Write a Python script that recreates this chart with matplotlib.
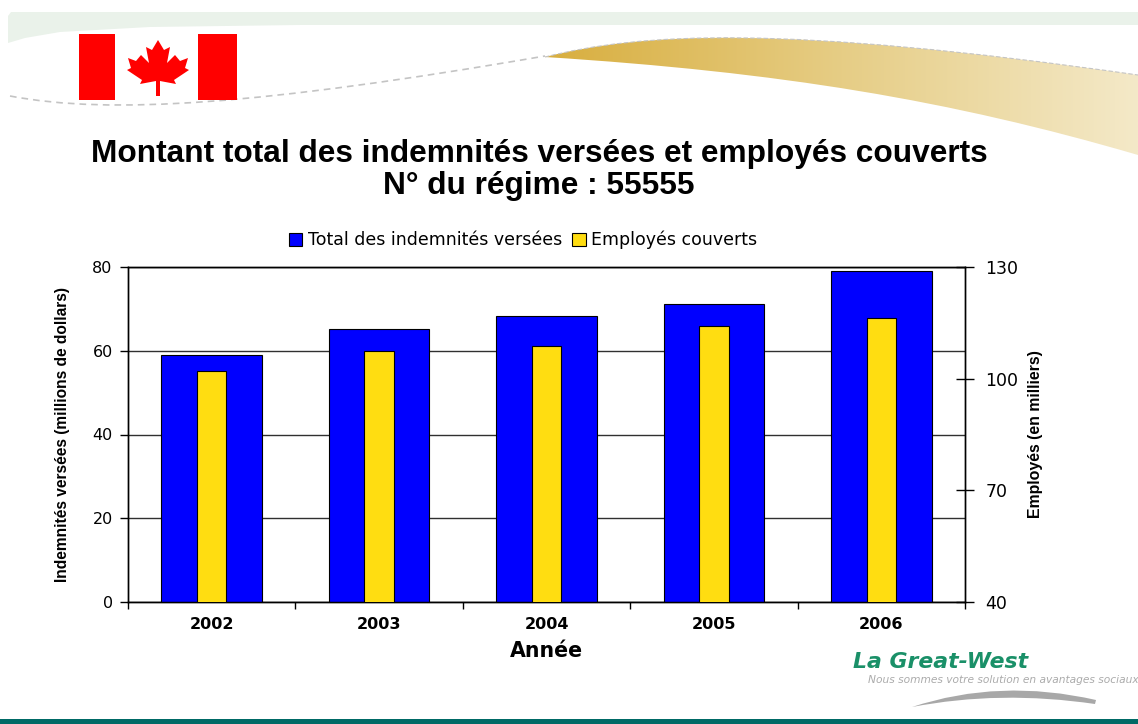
import numpy as np
import matplotlib
matplotlib.use('Agg')
import matplotlib.pyplot as plt
from matplotlib.patches import Polygon, Rectangle, PathPatch
from matplotlib.path import Path

plt.rcParams['font.family'] = ['DejaVu Sans']
sans = ['Liberation Sans', 'DejaVu Sans']

annees = ['2002', '2003', '2004', '2005', '2006']
indemnites = [59, 65.2, 68.3, 71.2, 79]
employes = [102, 107.5, 108.8, 114.2, 116.3]

W, H = 1138, 724
fig = plt.figure(figsize=(W / 100, H / 100), dpi=100, facecolor='white')

# background decoration, in pixel coords
bg = fig.add_axes([0, 0, 1, 1], zorder=0)
bg.set_xlim(0, W)
bg.set_ylim(H, 0)
bg.axis('off')

# pale band on top
band = [(8, 43), (8, 16), (11, 12), (1138, 12), (1138, 25), (300, 25), (150, 27), (60, 32), (25, 38)]
bg.add_patch(Polygon(band, closed=True, fc='#eaf2ea', ec='none'))

# gold swoosh
C3, C4, L = Path.CURVE3, Path.CURVE4, Path.LINETO
top_pts = [(545, 57), (640, 33), (780, 24), (1138, 75)]
bot_pts = [(1138, 155), (950, 100), (780, 72), (545, 57)]
swoosh = Path(top_pts + bot_pts, [Path.MOVETO, C4, C4, C4, L, C4, C4, C4])
grad = np.linspace(0, 1, 256).reshape(1, -1)
cmap = matplotlib.colors.LinearSegmentedColormap.from_list('gold', ['#d8ae3e', '#e6cd85', '#f4e9c8'])
im = bg.imshow(grad, extent=[545, 1138, 160, 30], cmap=cmap, aspect='auto')
clip = PathPatch(swoosh, transform=bg.transData, fc='none', ec='none')
bg.add_patch(clip)
im.set_clip_path(clip)
bg.set_xlim(0, W)
bg.set_ylim(H, 0)

# thin dashed line under the flag and along the swoosh
dash = Path([(10, 96), (110, 115), (260, 105), (545, 56)], [Path.MOVETO, C4, C4, C4])
bg.add_patch(PathPatch(dash, fc='none', ec='#c4c4c4', lw=1.2, ls=(0, (4, 3))))
bg.add_patch(PathPatch(Path(top_pts, [Path.MOVETO, C4, C4, C4]), fc='none', ec='#c4c4c4', lw=0.8, ls=(0, (4, 2))))

# flag
bg.add_patch(Rectangle((79, 34), 158, 66, fc='white', ec='none'))
bg.add_patch(Rectangle((79, 34), 36, 66, fc='#ff0000', ec='none'))
bg.add_patch(Rectangle((198, 34), 39, 66, fc='#ff0000', ec='none'))
leaf = [(158, 40), (164, 50), (170, 47), (167, 63), (175, 55), (180, 61), (188, 58), (185, 68), (189, 70),
        (174, 80), (176, 84), (160, 81), (160, 96), (156, 96), (156, 81), (140, 84), (142, 80),
        (127, 70), (131, 68), (128, 58), (136, 61), (141, 55), (149, 63), (146, 47), (152, 50)]
bg.add_patch(Polygon(leaf, closed=True, fc='#ff0000', ec='none'))

# footer bar and logo
bg.add_patch(Rectangle((0, 719), W, 5, fc='#006a66', ec='none'))
bg.text(853, 662, 'La Great-West', fontsize=15.8, fontweight='bold', style='italic', color='#1a9068', va='center')
bg.text(868, 680, 'Nous sommes votre solution en avantages sociaux', fontsize=7.65,
        style='italic', color='#ababab', va='center')
logo = Path([(912, 707), (1000, 678), (1096, 700), (1095, 704), (1000, 690), (912, 707)],
            [Path.MOVETO, C3, C3, L, C3, C3])
bg.add_patch(PathPatch(logo, fc='#a8a8a8', ec='none'))

# title
bg.text(539, 154, 'Montant total des indemnités versées et employés couverts', fontsize=22.8,
        fontweight='bold', ha='center', va='center', color='black', family=sans)
bg.text(539, 186, 'N° du régime : 55555', fontsize=22.8, fontweight='bold', ha='center', va='center',
        color='black', family=sans)

# chart
x = np.arange(len(annees))
ax = fig.add_axes([128 / W, 1 - 602 / H, (965 - 128) / W, (602 - 267) / H], zorder=1)
ax.patch.set_alpha(0)
b1 = ax.bar(x, indemnites, width=0.6, color='#0000ff', edgecolor='black', linewidth=0.8, zorder=3,
            label='Total des indemnités versées')
ax.set_xlim(-0.5, 4.5)
ax.set_ylim(0, 80)
ax.set_yticks([0, 20, 40, 60, 80])
ax.yaxis.grid(True, color='#303030', lw=1, zorder=0)
ax.set_axisbelow(True)
ax.set_xticks(x)
ax.set_xticklabels(annees, fontweight='bold', fontsize=11.5)
ax.set_xticks(np.arange(-0.5, 5), minor=True)
ax.tick_params(axis='x', which='major', length=0, pad=11)
ax.tick_params(axis='x', which='minor', length=5, width=1)
ax.tick_params(axis='y', length=6, width=1, labelsize=11.5, pad=5)
ax.set_xlabel('Année', fontweight='bold', fontsize=14.8, labelpad=6)
ax.set_ylabel('Indemnités versées (millions de dollars)', fontweight='bold', fontsize=11.2, labelpad=16,
              family=sans)

ax2 = ax.twinx()
ax2.set_zorder(2)
ax2.patch.set_alpha(0)
b2 = ax2.bar(x, employes, width=0.175, color='#ffdd11', edgecolor='black', linewidth=0.8, zorder=3,
             label='Employés couverts')
ax2.set_ylim(40, 130)
ax2.set_yticks([40, 70, 100, 130])
ax2.tick_params(axis='y', length=13, width=1, labelsize=12.5, direction='inout', pad=8)
ax2.set_ylabel('Employés (en milliers)', fontweight='bold', fontsize=11.4, labelpad=7, family=sans)

for s in list(ax.spines.values()) + list(ax2.spines.values()):
    s.set_linewidth(1)
    s.set_color('black')

fig.legend([b1, b2], [b1.get_label(), b2.get_label()], loc='center', bbox_to_anchor=(523 / W, 1 - 240 / H),
           ncol=2, frameon=False, fontsize=12.5, handlelength=0.8, handleheight=0.8, handletextpad=0.3,
           columnspacing=0.6, borderpad=0)

fig.savefig('out.png', dpi=100)
